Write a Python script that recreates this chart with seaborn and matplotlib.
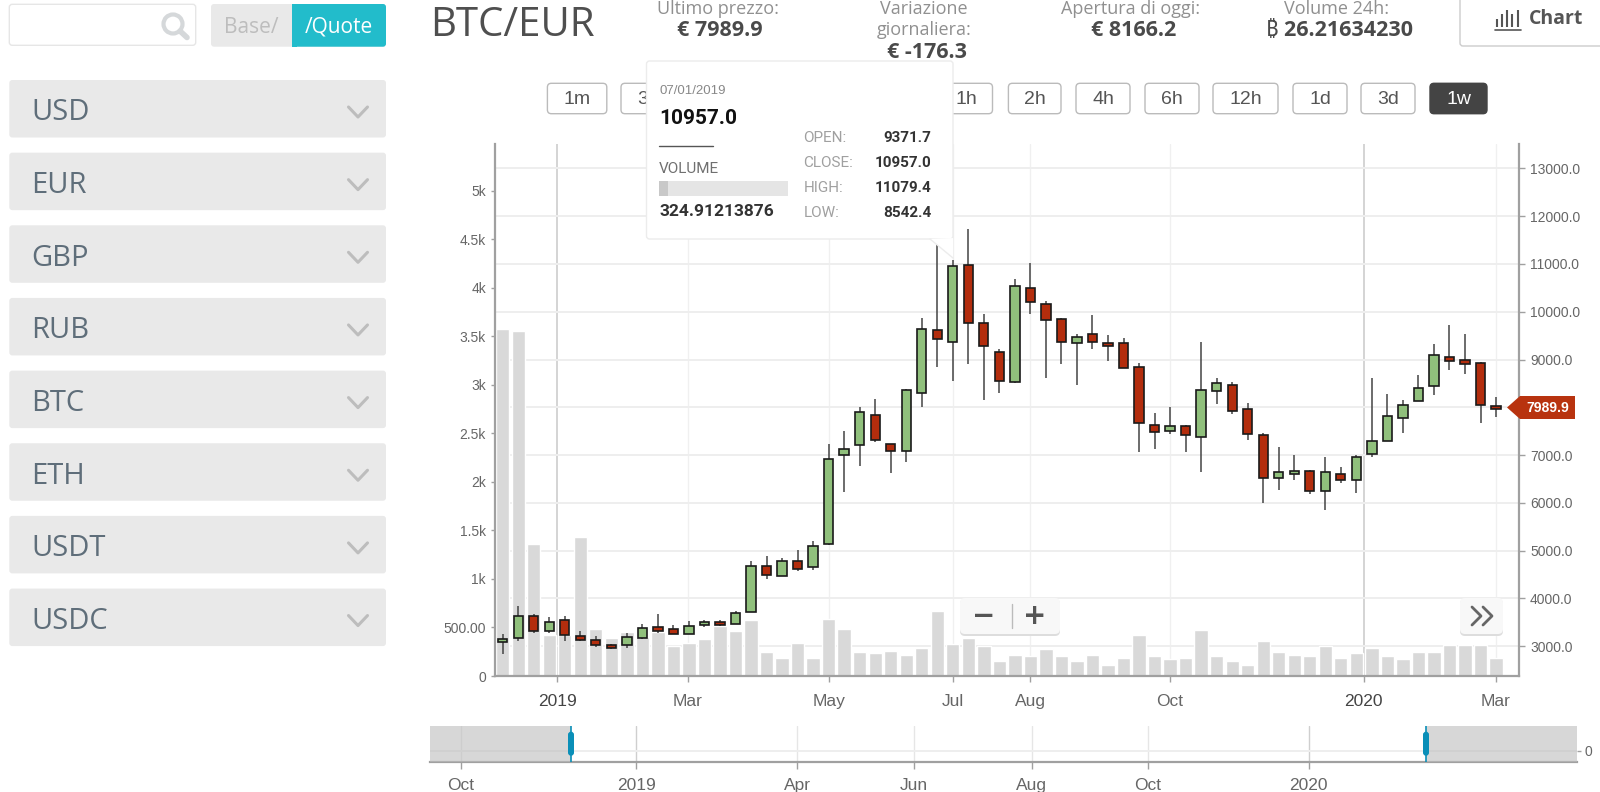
import matplotlib
matplotlib.use("Agg")
import matplotlib.pyplot as plt
import numpy as np
import seaborn as sns
from matplotlib.patches import FancyBboxPatch, Polygon, Rectangle, Circle

# Weekly candles
week_idx = list(range(65))
price_open = [3077, 3167, 3628, 3321, 3544, 3209, 3118, 3028, 3021, 3167, 3391, 3356, 3258, 3440, 3509, 3467,
              3712, 4682, 4466, 4773, 4647, 5130, 6993, 7202, 7837, 7237, 7083, 8291, 9617, 9371.7, 10971, 9764,
              9163, 8528, 10490, 10155, 9855, 9338, 9526, 9345, 9345, 8835, 7628, 7502, 7600, 7383, 8347, 8472,
              7963, 7418, 6511, 6602, 6664, 6239, 6602, 6476, 7020, 7300, 7774, 8137, 8437, 9045, 8982, 8926, 8018]
price_close = [3153, 3628, 3321, 3509, 3223, 3133, 3014, 2958, 3181, 3384, 3321, 3258, 3419, 3509, 3433, 3684,
               4682, 4493, 4773, 4612, 5101, 6909, 7118, 7900, 7321, 7083, 8354, 9645, 9436, 10957.0, 9757, 9282,
               8556, 10546, 10210, 9820, 9366, 9464, 9366, 9275, 8828, 7663, 7474, 7600, 7411, 8354, 8500, 7921,
               7439, 6511, 6636, 6664, 6239, 6636, 6476, 6965, 7300, 7809, 8046, 8409, 9100, 8975, 8912, 8040, 7956]
price_high = [3244, 3844, 3663, 3600, 3635, 3307, 3209, 3049, 3279, 3453, 3670, 3433, 3523, 3544, 3544, 3733,
              4773, 4877, 4835, 5017, 5205, 7223, 7495, 7998, 8179, 7240, 8389, 9861, 11411, 11079.4, 11732, 9952,
              9226, 10678, 11013, 10224, 9861, 9533, 9924, 9506, 9443, 8933, 7886, 7998, 7635, 9359, 8605, 8535,
              8095, 7453, 7160, 7006, 6692, 6951, 6741, 7000, 8605, 8270, 8144, 8668, 9324, 9729, 9533, 8954, 8207]
price_low = [2832, 3098, 3265, 3279, 3105, 3098, 2986, 2944, 2951, 3153, 3279, 3244, 3244, 3405, 3419, 3453,
             3705, 4396, 4459, 4577, 4598, 5110, 6225, 6769, 7265, 6623, 6860, 8012, 8849, 8542.4, 8912, 8158,
             8305, 8507, 9959, 8612, 8912, 8466, 9212, 8975, 8828, 7070, 7132, 7432, 7069, 6650, 8067, 7865,
             7314, 5987, 6260, 6476, 6176, 5841, 6420, 6204, 6951, 7293, 7467, 8130, 8249, 8786, 8703, 7677, 7795]
volume = [3574, 3550, 1356, 422, 420, 1431, 484, 395, 453, 398, 456, 309, 336, 381, 515, 467,
          573, 247, 188, 336, 188, 584, 481, 247, 233, 261, 216, 288, 673, 324.9, 391, 306,
          154, 216, 203, 275, 203, 154, 216, 113, 185, 422, 203, 172, 185, 470, 203, 154,
          113, 360, 247, 216, 203, 306, 185, 233, 288, 203, 172, 247, 247, 319, 319, 319, 185]

vol_ticks = [0, 500, 1000, 1500, 2000, 2500, 3000, 3500, 4000, 4500, 5000]
vol_labels = ["0", "500.00", "1k", "1.5k", "2k", "2.5k", "3k", "3.5k", "4k", "4.5k", "5k"]
price_ticks = [3000, 4000, 5000, 6000, 7000, 8000, 9000, 10000, 11000, 12000, 13000]
month_pos = [3.5, 11.92, 21.02, 29, 33.98, 43, 55.48, 64]
month_labels = ["2019", "Mar", "May", "Jul", "Aug", "Oct", "2020", "Mar"]
nav_pos = [460.6, 636, 797, 913.6, 1031.7, 1147.6, 1308.7]
nav_labels = ["Oct", "2019", "Apr", "Jun", "Aug", "Oct", "2020"]

currencies = ["USD", "EUR", "GBP", "RUB", "BTC", "ETH", "USDT", "USDC"]
timeframes = [("1m", 547.4, 606.8), ("3m", 621, 680), ("1h", 940, 992.5), ("2h", 1008.4, 1061),
              ("4h", 1076, 1130), ("6h", 1145, 1199), ("12h", 1213, 1278), ("1d", 1293, 1347),
              ("3d", 1361, 1415), ("1w", 1430, 1487)]

sns.set_theme(style="white")
plt.rcParams["font.family"] = ["Open Sans", "Noto Sans", "Inter", "Roboto", "Lato", "DejaVu Sans"]

W, H = 1600, 792
GREEN = "#90c07c"
RED = "#b32d0d"
TICK = "#666666"
AXIS = "#a0a0a0"
tick_font = "Liberation Sans"
tip_font = ["Liberation Sans Narrow", "Roboto"]


def place(x0, y0, x1, y1):
    return [x0 / W, 1 - y1 / H, (x1 - x0) / W, (y1 - y0) / H]


fig = plt.figure(figsize=(16, 7.92), dpi=100, facecolor="white")
chart_pos = place(495, 144, 1519, 676)
x_range = (-0.496, 65.48)

# bottom layer: price scale and grid
ax_price = fig.add_axes(chart_pos, zorder=1)
ax_price.set_xlim(x_range)
ax_price.set_ylim(2372, 13513)
ax_price.yaxis.tick_right()
ax_price.set_yticks(price_ticks)
# the 8000 label sits under the last price flag
ax_price.set_yticklabels(["" if p == 8000 else f"{p:.1f}" for p in price_ticks],
                         fontsize=10, color=TICK, family=tick_font)
ax_price.set_xticks(month_pos)
ax_price.set_xticklabels(month_labels, fontsize=12.5, color=TICK, family=tick_font)
ax_price.tick_params(axis="y", length=4.5, width=1, color=AXIS, right=True, pad=3.5)
ax_price.tick_params(axis="x", length=4, width=1, color=AXIS, bottom=True, pad=9)
ax_price.grid(True, axis="y", color="#eeeeee", lw=1.4)
ax_price.grid(True, axis="x", color="#f0f0f0", lw=1.0)
for i in (0, 6):
    ax_price.get_xgridlines()[i].set_color("#d4d4d4")
    ax_price.get_xgridlines()[i].set_linewidth(1.4)
    ax_price.get_xticklabels()[i].set_color("#444444")
for side in ("top", "left", "bottom"):
    ax_price.spines[side].set_visible(False)
ax_price.spines["right"].set_color(AXIS)
ax_price.spines["right"].set_linewidth(1.6)

# volume bars on their own left scale
ax_vol = fig.add_axes(chart_pos, zorder=2)
ax_vol.patch.set_visible(False)
sns.barplot(x=week_idx, y=volume, native_scale=True, width=0.86, color="#d9d9d9", saturation=1, ax=ax_vol)
ax_vol.set_xlim(x_range)
ax_vol.set_ylim(0, 5479)
ax_vol.set_xticks([])
ax_vol.set_xlabel("")
ax_vol.set_ylabel("")
ax_vol.set_yticks(vol_ticks)
ax_vol.set_yticklabels(vol_labels, fontsize=10, color=TICK, family=tick_font)
ax_vol.tick_params(axis="y", length=3, width=1, color=AXIS, left=True, pad=3.5)
for side in ("top", "right"):
    ax_vol.spines[side].set_visible(False)
for side in ("left", "bottom"):
    ax_vol.spines[side].set_color(AXIS)
    ax_vol.spines[side].set_linewidth(1.6)

# candles on top, same price scale
ax_candle = fig.add_axes(chart_pos, zorder=3)
ax_candle.patch.set_visible(False)
ax_candle.set_xlim(x_range)
ax_candle.set_ylim(ax_price.get_ylim())
ax_candle.axis("off")
opens = np.array(price_open)
closes = np.array(price_close)
up = closes >= opens
ax_candle.vlines(week_idx, price_low, price_high, color="#444444", lw=1.1, zorder=2)
ax_candle.bar(week_idx, np.abs(closes - opens), bottom=np.minimum(opens, closes), width=0.6,
              color=[GREEN if u else RED for u in up], edgecolor="#1a1a1a", lw=1.2, zorder=3)

# navigator strip
ax_nav = fig.add_axes(place(430, 726, 1576.5, 762.3), zorder=4)
ax_nav.set_xlim(430, 1576.5)
ax_nav.set_ylim(-0.32, 0.68)
ax_nav.set_xticks(nav_pos)
ax_nav.set_xticklabels(nav_labels, fontsize=12.5, color=TICK, family=tick_font)
ax_nav.yaxis.tick_right()
ax_nav.set_yticks([0])
ax_nav.set_yticklabels(["0"], fontsize=10, color=TICK, family=tick_font)
ax_nav.tick_params(axis="x", length=5, width=1, color=AXIS, bottom=True, pad=6.5)
ax_nav.tick_params(axis="y", length=3, width=1, color=AXIS, right=True, pad=3)
ax_nav.grid(True, axis="y", color="#eeeeee", lw=1.4)
ax_nav.grid(True, axis="x", color="#e6e6e6", lw=1.0)
for i in (1, 6):
    ax_nav.get_xgridlines()[i].set_color("#cfcfcf")
for side in ("top", "left", "right"):
    ax_nav.spines[side].set_visible(False)
ax_nav.spines["bottom"].set_color(AXIS)
ax_nav.spines["bottom"].set_linewidth(1.6)
ax_nav.axvspan(430, 571, color="#bdbdbd", alpha=0.6, lw=0, zorder=3)
ax_nav.axvspan(1426, 1576.5, color="#bdbdbd", alpha=0.6, lw=0, zorder=3)
for hx in (571, 1426):
    ax_nav.axvline(hx, color="#0a8fb8", lw=1.2, zorder=4)

# page furniture in pixel coordinates
ui = fig.add_axes([0, 0, 1, 1], zorder=10)
ui.set_xlim(0, W)
ui.set_ylim(H, 0)
ui.patch.set_visible(False)
ui.axis("off")


def box(x0, y0, x1, y1, face, edge="none", lw=1.0, radius=3, z=1):
    p = FancyBboxPatch((x0, y0), x1 - x0, y1 - y0, boxstyle=f"round,pad=0,rounding_size={radius}",
                       fc=face, ec=edge, lw=lw, zorder=z)
    ui.add_patch(p)
    return p


def label(x, y, s, size, color, ha="center", weight="normal", family=None, z=5):
    return ui.text(x, y, s, fontsize=size, color=color, ha=ha, va="center", fontweight=weight, family=family, zorder=z)


# sidebar
box(9.3, 4.3, 195.7, 45.3, "white", "#e6e6e6")
ui.add_patch(Circle((173, 24), 9.5, fc="none", ec="#d5d8da", lw=3))
ui.plot([180, 187], [31, 37.5], color="#d5d8da", lw=4, solid_capstyle="round")
box(211, 4, 386, 46.7, "#e9e9e9")
box(292, 4, 386, 46.7, "#22bccb")
ui.add_patch(Rectangle((292, 4), 5, 42.7, fc="#22bccb", ec="none", zorder=2))
label(251, 27.5, "Base/", 15, "#bdbdbd")
label(339, 27.5, "/Quote", 15, "white")
for i, cur in enumerate(currencies):
    top = 80 + i * 72.65
    box(9.3, top, 386, top + 57.5, "#e9e9e9")
    label(31.5, top + 33, cur, 21, "#5f6e7a", ha="left")
    ui.plot([348.5, 358, 367.5], [top + 27, top + 37, top + 27], color="#bdbdbd", lw=2.2)

# header
label(430, 26, "BTC/EUR", 29, "#4f4f4f", ha="left")
label(718, 9, "Ultimo prezzo:", 13, "#909090")
label(720, 31, "€ 7989.9", 15.5, "#4a4a4a", weight="bold")
label(924, 9, "Variazione", 13, "#909090")
label(924, 30, "giornaliera:", 13, "#909090")
label(927, 52, "€ -176.3", 15.5, "#4a4a4a", weight="bold")
label(1131, 9, "Apertura di oggi:", 13, "#909090")
label(1134, 31, "€ 8166.2", 15.5, "#4a4a4a", weight="bold")
label(1337, 9, "Volume 24h:", 13, "#909090")
label(1339, 31, "₿ 26.21634230", 15.5, "#4a4a4a", weight="bold")
box(1460, -8, 1620, 46, "white", "#cccccc")
label(1556, 19.5, "Chart", 14, "#555555", weight="bold")
for bx, bt in zip([1497, 1502, 1507, 1512, 1518], [19, 14, 10, 14, 10]):
    ui.plot([bx, bx], [bt, 27], color="#555555", lw=1.5, solid_capstyle="butt")
ui.plot([1495, 1521], [29.5, 29.5], color="#555555", lw=1.2)

# timeframe buttons
for name, x0, x1 in timeframes:
    on = name == "1w"
    box(x0, 83.3, x1, 113.7, "#444444" if on else "white", "#444444" if on else "#bbbbbb", radius=4)
    label((x0 + x1) / 2, 99.5, name, 14, "white" if on else "#555555", family=tick_font)

# tooltip
box(646.5, 61, 953, 239, "white", "#ececec", z=6)
ui.add_patch(Polygon([(930, 239), (953, 258), (953, 238)], fc="white", ec="none", zorder=6))
ui.plot([930, 953], [239, 258], color="#ececec", lw=1, zorder=6)
label(659, 91, "07/01/2019", 9.5, "#888888", ha="left", family=tick_font, z=7)
label(659, 119, "10957.0", 15, "#111111", ha="left", weight="bold", family=tip_font, z=7)
ui.plot([659, 713], [146, 146], color="#555555", lw=1, zorder=7)
label(659, 169, "VOLUME", 11, "#707070", ha="left", family=tip_font, z=7)
ui.add_patch(Rectangle((659, 181), 129, 15, fc="#e5e5e5", ec="none", zorder=7))
ui.add_patch(Rectangle((659, 181), 9, 15, fc="#c8c8c8", ec="none", zorder=8))
label(659, 212, "324.91213876", 12.5, "#333333", ha="left", weight="bold", family=tip_font, z=7)
for ty, key, val in zip([138, 163, 188, 213], ["OPEN:", "CLOSE:", "HIGH:", "LOW:"],
                        ["9371.7", "10957.0", "11079.4", "8542.4"]):
    label(803.5, ty, key, 11, "#a0a0a0", ha="left", family=tip_font, z=7)
    label(931.7, ty, val, 11, "#333333", ha="right", weight="bold", family=tip_font, z=7)

# last price flag
ui.add_patch(Polygon([(1507, 407.5), (1520, 396), (1575, 396), (1575, 419), (1520, 419)], fc="#b8330f", ec="none"))
label(1548, 408, "7989.9", 10, "white", weight="bold", family=tick_font)

# zoom controls, with a soft lower edge
box(960, 599, 1060, 636, "#dddddd", radius=5, z=6)
box(960, 598, 1060, 634, "#f8f8f8", radius=5, z=6)
label(984, 616, "−", 20, "#555555", weight="bold", family="DejaVu Sans", z=7)
ui.plot([1012, 1012], [604, 628], color="#bbbbbb", lw=1, zorder=7)
label(1034.6, 616, "+", 20, "#555555", weight="bold", family="DejaVu Sans", z=7)
box(1460, 599, 1503, 636, "#dddddd", radius=5, z=6)
box(1460, 598, 1503, 634, "#f8f8f8", radius=5, z=6)
for off in (0, 11):
    ui.plot([1472 + off, 1481 + off, 1472 + off], [607, 616, 625], color="#666666", lw=2, zorder=7)

# navigator handles
for hx in (571, 1426):
    box(hx - 3, 731.7, hx + 3, 755.7, "#0a8fb8", radius=3, z=6)

fig.savefig("out.png", dpi=100)
